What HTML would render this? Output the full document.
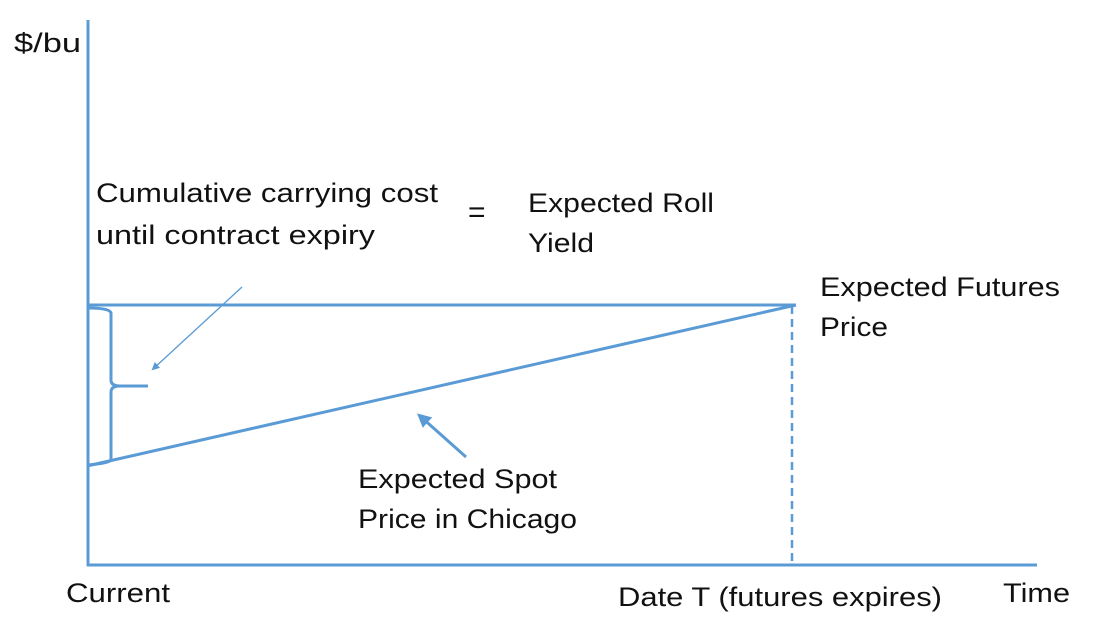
<!DOCTYPE html>
<html><head><style>
body{margin:0;background:#fff;}
svg text{font-family:"Liberation Sans",sans-serif;font-size:27px;fill:#111;}
</style></head><body>
<svg width="1100" height="634" viewBox="0 0 1100 634" xmlns="http://www.w3.org/2000/svg">
<defs>
<marker id="a" markerWidth="8" markerHeight="8" refX="6" refY="4" orient="auto" markerUnits="userSpaceOnUse"><path d="M0,0 L8,4 L0,8 z" fill="#5b9bd5"/></marker>
<marker id="b" markerWidth="14" markerHeight="14" refX="10" refY="7" orient="auto" markerUnits="userSpaceOnUse"><path d="M0,0 L14,7 L0,14 z" fill="#5b9bd5"/></marker>
</defs>
<g stroke="#5b9bd5" fill="none">
<line x1="88" y1="20" x2="88" y2="566" stroke-width="3"/>
<line x1="87" y1="565" x2="1037" y2="565" stroke-width="3"/>
<line x1="87" y1="305" x2="796" y2="305" stroke-width="3"/>
<line x1="87" y1="466" x2="796" y2="305" stroke-width="3"/>
<line x1="792" y1="306" x2="792" y2="565" stroke-width="2.5" stroke-dasharray="8,5"/>
<path d="M88,308 Q110,308 111,313 L111,380 Q111,386 120,386 L148,386 M120,386 Q111,386 111,392 L111,460 Q110,463 88,465" stroke-width="3"/>
<line x1="242" y1="287" x2="153" y2="369" stroke-width="1.3" marker-end="url(#a)"/>
<line x1="466" y1="457" x2="420" y2="416" stroke-width="3" marker-end="url(#b)"/>
</g>
<text x="14" y="52" textLength="67" lengthAdjust="spacingAndGlyphs">$/bu</text>
<text x="96" y="202" textLength="342" lengthAdjust="spacingAndGlyphs">Cumulative carrying cost</text>
<text x="96" y="244" textLength="279" lengthAdjust="spacingAndGlyphs">until contract expiry</text>
<text x="468" y="222" style="font-size:30px">=</text>
<text x="528" y="212" textLength="186" lengthAdjust="spacingAndGlyphs">Expected Roll</text>
<text x="528" y="252" textLength="66" lengthAdjust="spacingAndGlyphs">Yield</text>
<text x="820" y="296" textLength="240" lengthAdjust="spacingAndGlyphs">Expected Futures</text>
<text x="820" y="336" textLength="68" lengthAdjust="spacingAndGlyphs">Price</text>
<text x="358" y="488" textLength="199" lengthAdjust="spacingAndGlyphs">Expected Spot</text>
<text x="358" y="528" textLength="219" lengthAdjust="spacingAndGlyphs">Price in Chicago</text>
<text x="66" y="602" textLength="104" lengthAdjust="spacingAndGlyphs">Current</text>
<text x="618" y="606" textLength="324" lengthAdjust="spacingAndGlyphs">Date T (futures expires)</text>
<text x="1003" y="602" textLength="67" lengthAdjust="spacingAndGlyphs">Time</text>
</svg>
</body></html>
